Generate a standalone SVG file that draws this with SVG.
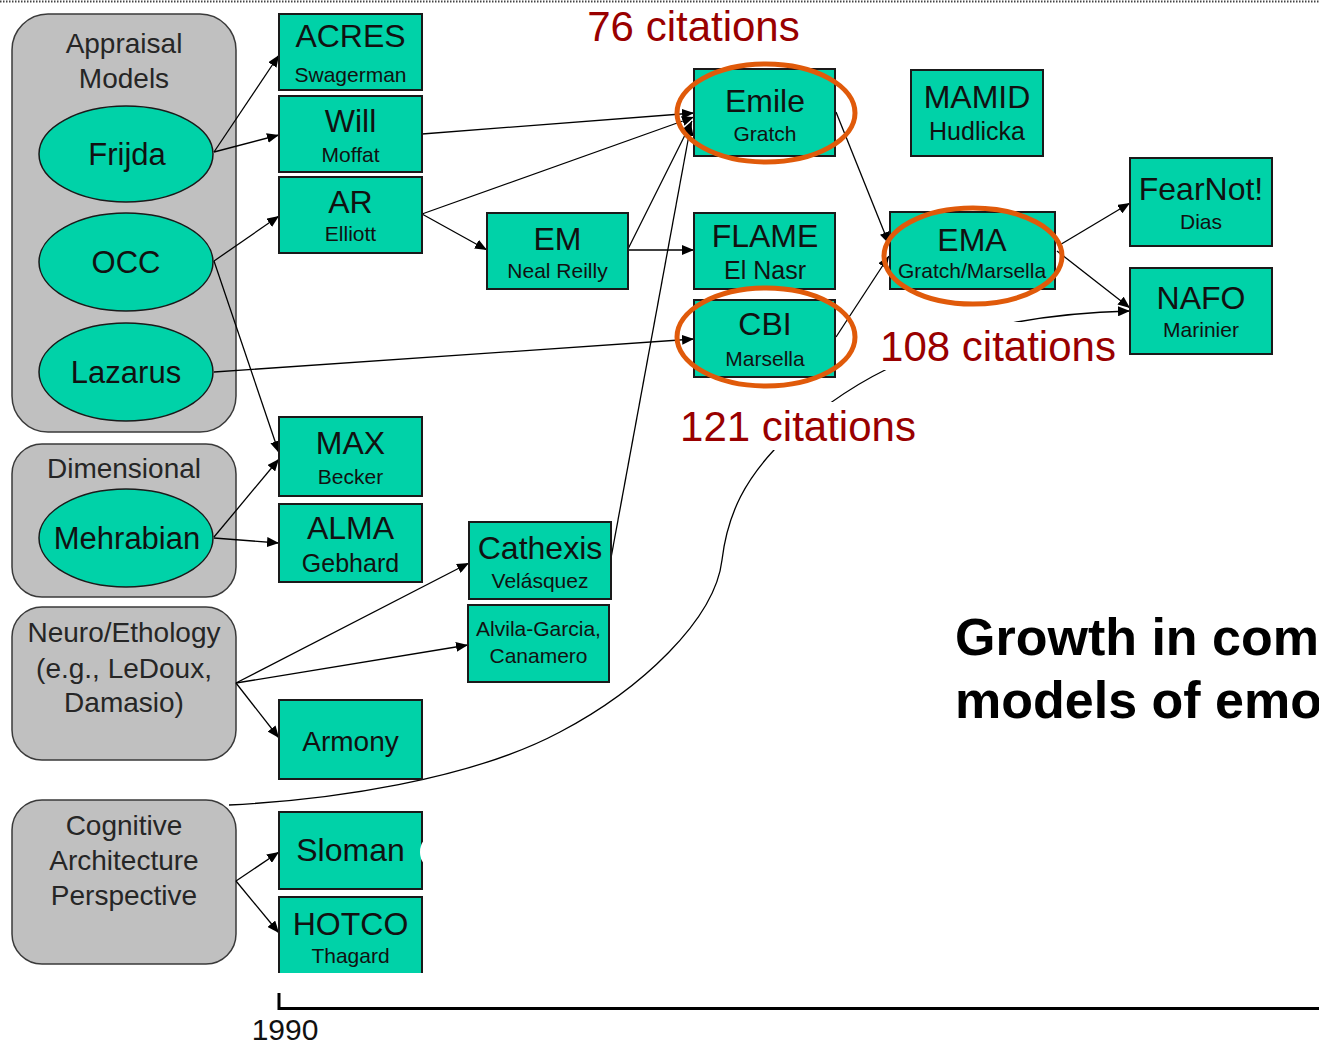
<svg xmlns="http://www.w3.org/2000/svg" width="1319" height="1044" viewBox="0 0 1319 1044">
  <defs>
    <marker id="arrow" viewBox="0 0 12 10" refX="12" refY="5" markerWidth="12" markerHeight="10" markerUnits="userSpaceOnUse" orient="auto">
      <path d="M0,0 L12,5 L0,10 z" fill="#000"/>
    </marker>
    <style>
      text { font-family: "Liberation Sans", Arial, sans-serif; text-anchor: middle; }
      .group { fill: #c0c0c0; stroke: #3a3a3a; stroke-width: 1.5; }
      .glabel { font-size: 28px; fill: #262626; }
      .ell { fill: #00d2a8; stroke: #1a1a1a; stroke-width: 1.5; }
      .elabel { font-size: 31px; fill: #111; }
      .box { fill: #00d2a8; stroke: #1a1a1a; stroke-width: 2; }
      .title { font-size: 32px; fill: #111; }
      .sub { font-size: 21px; fill: #111; }
      .sub25 { font-size: 25px; fill: #111; }
      .edge { fill: none; stroke: #000; stroke-width: 1.3; marker-end: url(#arrow); }
      .cite { font-size: 42px; fill: #990000; }
      .ring { fill: none; stroke: #e05a0a; stroke-width: 5; }
    </style>
  </defs>

  <rect width="1319" height="1044" fill="#fff"/>
  <!-- dotted rule along the top -->
  <line x1="0" y1="1.5" x2="1319" y2="1.5" stroke="#444" stroke-width="2" stroke-dasharray="1.5 1.5"/>

  <!-- category panels -->
  <g id="appraisal-models">
    <rect class="group" x="12" y="14" width="224" height="418" rx="36"/>
    <text class="glabel" x="124" y="53">Appraisal</text>
    <text class="glabel" x="124" y="88">Models</text>
  </g>
  <g id="dimensional">
    <rect class="group" x="12" y="444" width="224" height="153" rx="30"/>
    <text class="glabel" x="124" y="478">Dimensional</text>
  </g>
  <g id="neuro-ethology">
    <rect class="group" x="12" y="607" width="224" height="153" rx="30"/>
    <text class="glabel" x="124" y="642">Neuro/Ethology</text>
    <text class="glabel" x="124" y="678">(e.g., LeDoux,</text>
    <text class="glabel" x="124" y="712">Damasio)</text>
  </g>
  <g id="cognitive-architecture">
    <rect class="group" x="12" y="800" width="224" height="164" rx="30"/>
    <text class="glabel" x="124" y="835">Cognitive</text>
    <text class="glabel" x="124" y="870">Architecture</text>
    <text class="glabel" x="124" y="905">Perspective</text>
  </g>

  <!-- theory ellipses -->
  <g id="frijda">
    <ellipse class="ell" cx="126" cy="154" rx="87" ry="48"/>
    <text class="elabel" x="127" y="165">Frijda</text>
  </g>
  <g id="occ">
    <ellipse class="ell" cx="126" cy="262" rx="87" ry="49"/>
    <text class="elabel" x="126" y="273">OCC</text>
  </g>
  <g id="lazarus">
    <ellipse class="ell" cx="126" cy="372" rx="87" ry="49"/>
    <text class="elabel" x="126" y="383">Lazarus</text>
  </g>
  <g id="mehrabian">
    <ellipse class="ell" cx="126" cy="538" rx="87" ry="49"/>
    <text class="elabel" x="127" y="549">Mehrabian</text>
  </g>

  <!-- connectors -->
  <g id="connectors">
    <line class="edge" x1="214" y1="152" x2="279" y2="55"/>
    <line class="edge" x1="214" y1="152" x2="279" y2="135"/>
    <line class="edge" x1="214" y1="261" x2="279" y2="216"/>
    <line class="edge" x1="214" y1="261" x2="279" y2="453"/>
    <line class="edge" x1="214" y1="372" x2="694" y2="339"/>
    <line class="edge" x1="422" y1="134" x2="694" y2="113"/>
    <line class="edge" x1="422" y1="214" x2="694" y2="117"/>
    <line class="edge" x1="422" y1="214" x2="487" y2="250"/>
    <line class="edge" x1="628" y1="249" x2="692" y2="121"/>
    <line class="edge" x1="628" y1="250" x2="694" y2="250"/>
    <line class="edge" x1="611" y1="558" x2="691" y2="124"/>
    <line class="edge" x1="836" y1="112" x2="889" y2="244"/>
    <line class="edge" x1="836" y1="337" x2="889" y2="256"/>
    <line class="edge" x1="1058" y1="246" x2="1130" y2="203"/>
    <line class="edge" x1="1057" y1="251" x2="1130" y2="308"/>
    <line class="edge" x1="214" y1="537" x2="279" y2="459"/>
    <line class="edge" x1="214" y1="538" x2="279" y2="543"/>
    <line class="edge" x1="236" y1="683" x2="469" y2="563"/>
    <line class="edge" x1="236" y1="683" x2="468" y2="645"/>
    <line class="edge" x1="236" y1="683" x2="279" y2="738"/>
    <line class="edge" x1="236" y1="881" x2="279" y2="852"/>
    <line class="edge" x1="236" y1="881" x2="279" y2="933"/>
    <path class="edge" d="M229,805 C330,800 470,780 560,732 C640,690 715,620 722,560 C728,510 748,478 774,450 C800,425 840,392 887,369 C930,348 975,330 1017,322 C1050,316 1090,312 1130,311"/>
  </g>

  <!-- model boxes -->
  <g id="acres">
    <rect class="box" x="279" y="14" width="143" height="76"/>
    <text class="title" x="350.5" y="47">ACRES</text>
    <text class="sub" x="350.5" y="82">Swagerman</text>
  </g>
  <g id="will">
    <rect class="box" x="279" y="96" width="143" height="76"/>
    <text class="title" x="350.5" y="132">Will</text>
    <text class="sub" x="350.5" y="162">Moffat</text>
  </g>
  <g id="ar">
    <rect class="box" x="279" y="177" width="143" height="76"/>
    <text class="title" x="350.5" y="213">AR</text>
    <text class="sub" x="350.5" y="241">Elliott</text>
  </g>
  <g id="em">
    <rect class="box" x="487" y="213" width="141" height="76"/>
    <text class="title" x="557.5" y="250">EM</text>
    <text class="sub" x="557.5" y="278">Neal Reilly</text>
  </g>
  <g id="emile">
    <rect class="box" x="694" y="69" width="141" height="87"/>
    <text class="title" x="765" y="112">Emile</text>
    <text class="sub" x="765" y="141">Gratch</text>
  </g>
  <g id="flame">
    <rect class="box" x="694" y="213" width="141" height="76"/>
    <text class="title" x="765" y="247">FLAME</text>
    <text class="sub25" x="765" y="279">El Nasr</text>
  </g>
  <g id="cbi">
    <rect class="box" x="694" y="300" width="141" height="77"/>
    <text class="title" x="765" y="335">CBI</text>
    <text class="sub" x="765" y="366">Marsella</text>
  </g>
  <g id="mamid">
    <rect class="box" x="911" y="70" width="132" height="86"/>
    <text class="title" x="977" y="108">MAMID</text>
    <text class="sub25" x="977" y="140">Hudlicka</text>
  </g>
  <g id="ema">
    <rect class="box" x="890" y="212" width="165" height="77"/>
    <text class="title" x="972" y="251">EMA</text>
    <text class="sub" x="972" y="278">Gratch/Marsella</text>
  </g>
  <g id="fearnot">
    <rect class="box" x="1130" y="158" width="142" height="88"/>
    <text class="title" x="1201" y="200">FearNot!</text>
    <text class="sub" x="1201" y="229">Dias</text>
  </g>
  <g id="nafo">
    <rect class="box" x="1130" y="268" width="142" height="86"/>
    <text class="title" x="1201" y="309">NAFO</text>
    <text class="sub" x="1201" y="337">Marinier</text>
  </g>
  <g id="max">
    <rect class="box" x="279" y="417" width="143" height="79"/>
    <text class="title" x="350.5" y="454">MAX</text>
    <text class="sub" x="350.5" y="484">Becker</text>
  </g>
  <g id="alma">
    <rect class="box" x="279" y="504" width="143" height="78"/>
    <text class="title" x="350.5" y="539">ALMA</text>
    <text class="sub25" x="350.5" y="572">Gebhard</text>
  </g>
  <g id="cathexis">
    <rect class="box" x="469" y="522" width="142" height="77"/>
    <text class="title" x="540" y="559">Cathexis</text>
    <text class="sub" x="540" y="588">Velásquez</text>
  </g>
  <g id="alvila-garcia">
    <rect class="box" x="468" y="605" width="141" height="77"/>
    <text class="sub" x="538.5" y="636">Alvila-Garcia,</text>
    <text class="sub" x="538.5" y="663">Canamero</text>
  </g>
  <g id="armony">
    <rect class="box" x="279" y="700" width="143" height="79"/>
    <text class="title" x="350.5" y="751" style="font-size:28px">Armony</text>
  </g>
  <g id="sloman">
    <rect class="box" x="279" y="812" width="143" height="77"/>
    <ellipse cx="434" cy="852" rx="14" ry="17" fill="#fff"/>
    <text class="title" x="350.5" y="861">Sloman</text>
  </g>
  <g id="hotco">
    <rect x="279" y="897" width="143" height="76" fill="#00d2a8"/>
    <path d="M279,973 V897 H422 V973" fill="none" stroke="#1a1a1a" stroke-width="2"/>
    <text class="title" x="350.5" y="935">HOTCO</text>
    <text class="sub" x="350.5" y="963">Thagard</text>
  </g>

  <!-- highlight rings -->
  <g id="highlights">
    <ellipse class="ring" cx="766" cy="113" rx="89" ry="49"/>
    <ellipse class="ring" cx="766" cy="337" rx="89" ry="49"/>
    <ellipse class="ring" cx="973" cy="256" rx="89" ry="48"/>
  </g>

  <!-- citation counts -->
  <g id="citations">
    <text class="cite" x="693.5" y="41">76 citations</text>
    <rect x="876" y="322" width="244" height="48" fill="#fff"/>
    <text class="cite" x="998" y="361">108 citations</text>
    <rect x="676" y="402" width="244" height="48" fill="#fff"/>
    <text class="cite" x="798" y="441">121 citations</text>
  </g>

  <!-- caption, running off the right edge -->
  <g id="caption" style="font-size:52px;font-weight:bold">
    <text x="955" y="655" style="text-anchor:start;fill:#000">Growth in com</text>
    <text x="955" y="718" style="text-anchor:start;fill:#000">models of emo</text>
  </g>

  <!-- timeline -->
  <g id="timeline">
    <path d="M279,993 V1008.5 H1319" fill="none" stroke="#000" stroke-width="3"/>
    <text x="285" y="1040" style="font-size:30px;fill:#111">1990</text>
  </g>
</svg>
